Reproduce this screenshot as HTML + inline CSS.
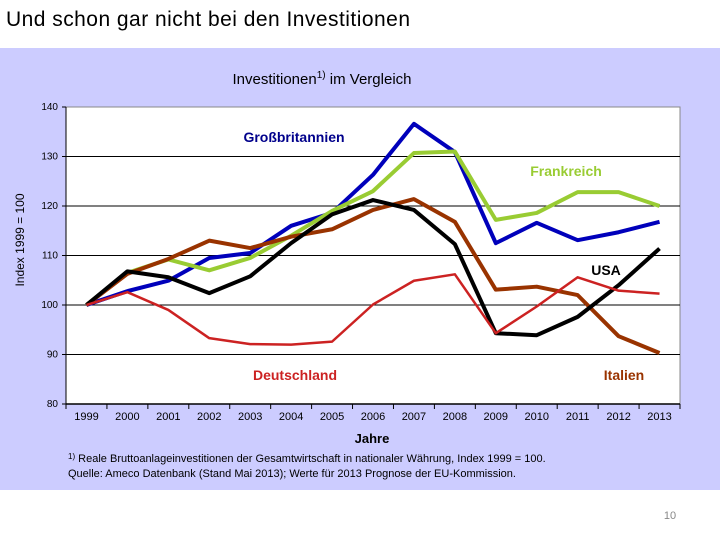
<!DOCTYPE html>
<html><head><meta charset="utf-8"><style>
body{margin:0;width:720px;height:540px;background:#fff;overflow:hidden;font-family:"Liberation Sans",sans-serif}
</style></head><body>
<svg width="720" height="540" xmlns="http://www.w3.org/2000/svg">
<text x="6" y="26" font-size="21" textLength="404" lengthAdjust="spacing" fill="#000">Und schon gar nicht bei den Investitionen</text>
<rect x="0" y="48" width="720" height="442" fill="#ccccff"/>
<text x="322" y="84" font-size="15" text-anchor="middle">Investitionen<tspan font-size="10" dy="-6">1)</tspan><tspan dy="6"> im Vergleich</tspan></text>
<rect x="66" y="107" width="614" height="297" fill="#fff" stroke="#888" stroke-width="1"/>
<g id="grid"></g><g id="axes"></g><g id="series"></g>
<text x="24" y="240" font-size="12" text-anchor="middle" transform="rotate(-90 24 240)">Index 1999 = 100</text>
<text x="372" y="443" font-size="13" font-weight="bold" text-anchor="middle">Jahre</text>
<text x="68" y="462" font-size="11"><tspan font-size="8" dy="-3">1)</tspan><tspan dy="3"> Reale Bruttoanlageinvestitionen der Gesamtwirtschaft in nationaler Währung, Index 1999 = 100.</tspan></text>
<text x="68" y="477" font-size="11">Quelle: Ameco Datenbank (Stand Mai 2013); Werte für 2013 Prognose der EU-Kommission.</text>
<text x="294" y="142" font-size="14" font-weight="bold" fill="#00008b" text-anchor="middle">Großbritannien</text>
<text x="566" y="176" font-size="14" font-weight="bold" fill="#99cc33" text-anchor="middle">Frankreich</text>
<text x="606" y="275" font-size="14" font-weight="bold" fill="#000" text-anchor="middle">USA</text>
<text x="295" y="380" font-size="14" font-weight="bold" fill="#cc2222" text-anchor="middle">Deutschland</text>
<text x="624" y="380" font-size="14" font-weight="bold" fill="#993300" text-anchor="middle">Italien</text>
<text x="670" y="519" font-size="11" fill="#888" text-anchor="middle">10</text>
</svg>
<script>
const years=["1999","2000","2001","2002","2003","2004","2005","2006","2007","2008","2009","2010","2011","2012","2013"];
const yTicks=[80,90,100,110,120,130,140];
const gb=[100,102.8,104.9,109.5,110.5,116,118.6,126.3,136.6,130.9,112.5,116.6,113.1,114.7,116.8];
const fr=[100,106.5,109.2,107,109.5,114,119,123,130.7,131,117.2,118.6,122.8,122.8,120];
const usa=[100,106.8,105.6,102.4,105.8,112.5,118.3,121.2,119.2,112.3,94.3,93.9,97.6,104,111.4];
const ita=[100,106.3,109.3,113,111.5,113.8,115.3,119.2,121.4,116.8,103.1,103.7,102,93.7,90.3];
const de=[100,102.6,99,93.3,92.1,92,92.6,100.1,104.9,106.2,94.3,99.7,105.6,102.9,102.3];
const NS="http://www.w3.org/2000/svg";
const L=66,R=680,T=107,B=404,ymin=80,ymax=140;
const bw=(R-L)/years.length;
const xs=i=>L+bw*(i+0.5);
const ys=v=>B-(v-ymin)/(ymax-ymin)*(B-T);
function mk(tag,at,parent){const e=document.createElementNS(NS,tag);for(const k in at)e.setAttribute(k,at[k]);parent.appendChild(e);return e;}
const grid=document.getElementById('grid'),axes=document.getElementById('axes'),ser=document.getElementById('series');
yTicks.forEach(v=>{
 if(v>ymin&&v<ymax){const g=mk('line',{x1:L,x2:R,y1:ys(v),y2:ys(v),stroke:'#000','stroke-width':1},grid);
 
 }
 const tk=mk('line',{x1:L-4,x2:L,y1:ys(v),y2:ys(v),stroke:'#000'},axes);
 
 
 const t=mk('text',{x:L-8,y:ys(v)+3,'font-size':10,'text-anchor':'end'},axes);t.textContent=v;
 
 
});
const ax=mk('line',{x1:L,x2:R,y1:B,y2:B,stroke:'#000','stroke-width':1.5},axes);


const ay=mk('line',{x1:L,x2:L,y1:T,y2:B,stroke:'#000','stroke-width':1},axes);


for(let i=0;i<=years.length;i++){const tk=mk('line',{x1:L+bw*i,x2:L+bw*i,y1:B,y2:B+5,stroke:'#000'},axes);
 
 }
years.forEach((y,i)=>{const t=mk('text',{x:xs(i),y:B+16,'font-size':11,'text-anchor':'middle'},axes);t.textContent=y;
 
 });
[[gb,'#0000bb','line-grossbritannien',4],[fr,'#99cc33','line-frankreich',4],[ita,'#993300','line-italien',4],[usa,'#000','line-usa',4],[de,'#cc2222','line-deutschland',2.5]].forEach(([d,c,n,w])=>{
 const p=mk('polyline',{points:d.map((v,i)=>xs(i)+','+ys(v)).join(' '),fill:'none',stroke:c,'stroke-width':w,'stroke-linejoin':'round'},ser);
 
 
});
</script>
</body></html>
